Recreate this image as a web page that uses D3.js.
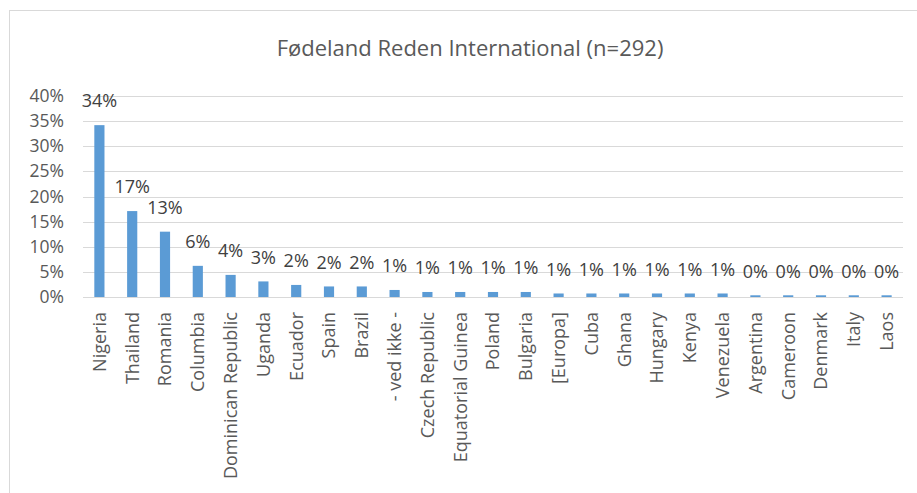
<!DOCTYPE html>
<html>
<head>
<meta charset="utf-8">
<script src="https://cdn.jsdelivr.net/npm/d3@7"></script>
<style>
  body { margin: 0; background: #fff; }
  text { font-family: "Open Sans", sans-serif; }
</style>
</head>
<body>
<div id="root"></div>
<script>
const categories = ["Nigeria", "Thailand", "Romania", "Columbia", "Dominican Republic", "Uganda",
  "Ecuador", "Spain", "Brazil", "- ved ikke -", "Czech Republic", "Equatorial Guinea", "Poland",
  "Bulgaria", "[Europa]", "Cuba", "Ghana", "Hungary", "Kenya", "Venezuela", "Argentina",
  "Cameroon", "Denmark", "Italy", "Laos"];
const values = [0.342, 0.171, 0.130, 0.062, 0.044, 0.031, 0.024, 0.021, 0.021, 0.014, 0.010,
  0.010, 0.010, 0.010, 0.007, 0.007, 0.007, 0.007, 0.007, 0.007, 0.0034, 0.0034, 0.0034,
  0.0034, 0.0034];
const yTicks = [0, 0.05, 0.10, 0.15, 0.20, 0.25, 0.30, 0.35, 0.40];
const title = "Fødeland Reden International (n=292)";

const width = 917, height = 493;
const margin = {top: 96, right: 14, bottom: 196, left: 83};

const data = categories.map((c, i) => ({name: c, value: values[i]}));

const svg = d3.select("#root").append("svg")
    .attr("width", width)
    .attr("height", height);

// chart area outline
svg.append("rect")
    .attr("x", 9.5).attr("y", 10.5)
    .attr("width", width).attr("height", height)
    .attr("fill", "none")
    .attr("stroke", "#d9d9d9");

svg.append("text")
    .attr("x", 470).attr("y", 48)
    .attr("dy", "0.35em")
    .attr("text-anchor", "middle")
    .attr("font-size", "22px")
    .attr("fill", "#595959")
    .text(title);

const x = d3.scaleBand()
    .domain(categories)
    .range([margin.left, width - margin.right])
    .paddingInner(0.69)
    .paddingOuter(0.345);

const y = d3.scaleLinear()
    .domain([0, 0.4])
    .range([height - margin.bottom, margin.top]);

// gridlines
svg.append("g")
    .selectAll("line")
    .data(yTicks)
    .enter().append("line")
    .attr("x1", margin.left).attr("x2", width - margin.right)
    .attr("y1", d => Math.round(y(d)) + 0.5)
    .attr("y2", d => Math.round(y(d)) + 0.5)
    .attr("stroke", "#d9d9d9")
    .attr("stroke-width", 1);

const yAxis = d3.axisLeft(y)
    .tickValues(yTicks)
    .tickFormat(d3.format(".0%"))
    .tickSize(0)
    .tickPadding(0);

svg.append("g")
    .attr("transform", "translate(64,0)")
    .call(yAxis)
    .call(g => g.select(".domain").remove())
    .selectAll("text")
    .attr("font-size", "17.5px")
    .attr("fill", "#595959")
    .attr("font-family", "Open Sans, sans-serif");

svg.selectAll(".bar")
    .data(data)
    .enter().append("rect")
    .attr("class", "bar")
    .attr("x", d => x(d.name))
    .attr("width", x.bandwidth())
    .attr("y", d => y(d.value))
    .attr("height", d => y(0) - y(d.value))
    .attr("fill", "#5b9bd5");

// data labels
svg.selectAll(".lbl")
    .data(data)
    .enter().append("text")
    .attr("class", "lbl")
    .attr("x", d => x(d.name) + x.bandwidth() / 2)
    .attr("y", d => y(d.value) - 24)
    .attr("dy", "0.35em")
    .attr("text-anchor", "middle")
    .attr("font-size", "18px")
    .attr("fill", "#404040")
    .text(d => d3.format(".0%")(d.value));

const xAxis = d3.axisBottom(x).tickSize(0).tickPadding(0);

svg.append("g")
    .attr("transform", "translate(0," + y(0) + ")")
    .call(xAxis)
    .call(g => g.select(".domain").remove())
    .selectAll("text")
    .attr("font-size", "18px")
    .attr("fill", "#595959")
    .attr("font-family", "Open Sans, sans-serif")
    .attr("text-anchor", "end")
    .attr("dy", "0.35em")
    .attr("transform", "translate(0,15) rotate(-90)");
</script>
</body>
</html>
